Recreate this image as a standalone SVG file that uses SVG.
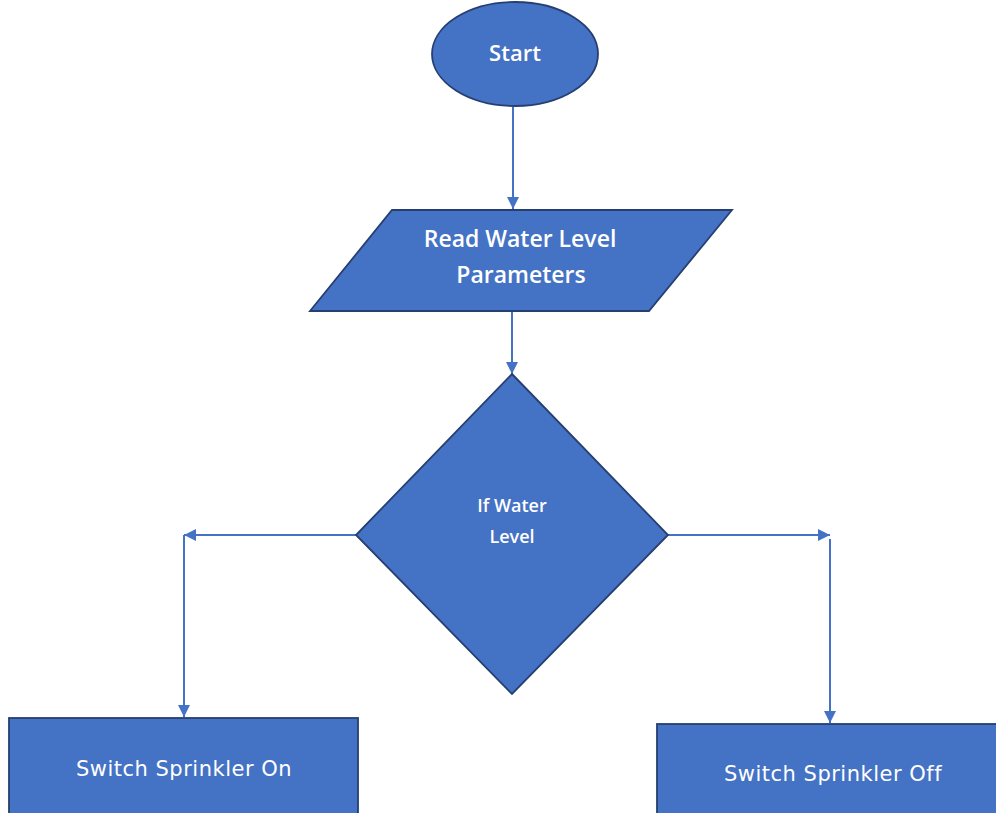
<svg xmlns="http://www.w3.org/2000/svg" width="996" height="813" viewBox="0 0 996 813">
<defs>
<marker id="arr" viewBox="0 0 12 12" refX="12" refY="6" markerWidth="12" markerHeight="12" markerUnits="userSpaceOnUse" orient="auto">
<path d="M0,0 L12,6 L0,12 Z" fill="#4472C4"/>
</marker>
<style>
.shape{fill:#4472C4;stroke:#263F70;stroke-width:1.8}
.conn{stroke:#4472C4;stroke-width:2;fill:none}
.t1{font-family:"Open Sans","Noto Sans",sans-serif;font-weight:600;fill:#ffffff;text-anchor:middle}
.t2{font-family:"DejaVu Sans","Noto Sans",sans-serif;font-weight:normal;fill:#ffffff;text-anchor:middle;letter-spacing:0.5px}
</style>
</defs>
<rect width="996" height="813" fill="#ffffff"/>
<g id="connectors">
<line class="conn" x1="513" y1="107" x2="513" y2="209" marker-end="url(#arr)"/>
<line class="conn" x1="512" y1="312" x2="512" y2="374" marker-end="url(#arr)"/>
<line class="conn" x1="356" y1="535" x2="184" y2="535" marker-end="url(#arr)"/>
<line class="conn" x1="184" y1="535" x2="184" y2="717" marker-end="url(#arr)"/>
<line class="conn" x1="668" y1="535" x2="830" y2="535" marker-end="url(#arr)"/>
<line class="conn" x1="830" y1="539" x2="830" y2="723" marker-end="url(#arr)"/>
</g>
<g id="start">
<ellipse class="shape" cx="515" cy="54" rx="83" ry="52"/>
<text class="t1" x="515" y="61" font-size="22">Start</text>
</g>
<g id="read">
<polygon class="shape" points="392,210 732,210 649,311 310,311"/>
<text class="t1" x="520" y="247" font-size="23">Read Water Level</text>
<text class="t1" x="521" y="283" font-size="23">Parameters</text>
</g>
<g id="decision">
<polygon class="shape" points="512,374 668,535 512,694 356,535"/>
<text class="t1" x="512" y="512" font-size="18">If Water</text>
<text class="t1" x="512" y="543" font-size="18">Level</text>
</g>
<g id="on">
<rect class="shape" x="9" y="718" width="349" height="110"/>
<text class="t2" x="184" y="776" font-size="21">Switch Sprinkler On</text>
</g>
<g id="off">
<rect class="shape" x="657" y="724" width="350" height="110"/>
<text class="t2" x="833" y="781" font-size="21">Switch Sprinkler Off</text>
</g>
</svg>
